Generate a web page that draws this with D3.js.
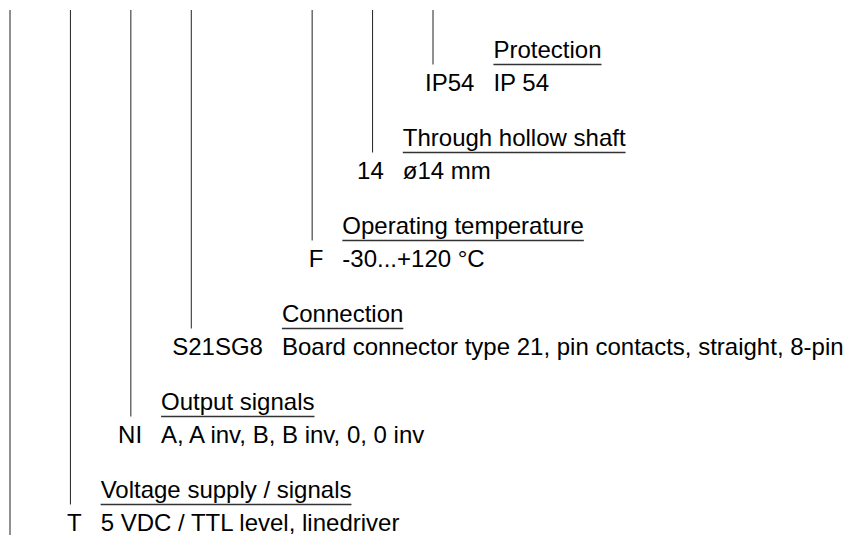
<!DOCTYPE html>
<html>
<head>
<meta charset="utf-8">
<script src="https://cdn.jsdelivr.net/npm/d3@7/dist/d3.min.js"></script>
<style>
  html, body { margin: 0; padding: 0; background: #fff; }
  svg { display: block; }
  text { font-family: Arial, "Liberation Sans", Helvetica, sans-serif; font-size: 24px; fill: #000; }
</style>
</head>
<body>
<svg id="chart" width="846" height="535"></svg>
<script>
// ---- data ----
const titles = ["Protection", "Through hollow shaft", "Operating temperature", "Connection", "Output signals", "Voltage supply / signals"];
const codes = ["IP54", "14", "F", "S21SG8", "NI", "T"];
const descriptions = ["IP 54", "ø14 mm", "-30...+120 °C", "Board connector type 21, pin contacts, straight, 8-pin", "A, A inv, B, B inv, 0, 0 inv", "5 VDC / TTL level, linedriver"];
const lineSlots = [7, 6, 5, 3, 2, 1];     // column of each group's leader line
const descSlots = [8, 6.5, 5.5, 4.5, 2.5, 1.5]; // column where each description starts
const baseSlot = 0;                        // unlabeled leading column

// ---- layout ----
const W = 846, H = 535;
const svg = d3.select("#chart");
const x = d3.scaleLinear().domain([0, 7]).range([10, 433]);
const y = d3.scaleLinear().domain([0, titles.length - 1]).range([58, 498]);
const underlineOff = 6.5, valueOff = 33, lineTop = 10, codeGap = 19;

const groups = titles.map((t, i) => ({ title: t, code: codes[i], desc: descriptions[i], line: lineSlots[i], dslot: descSlots[i], i }));

// base line
svg.append("line")
  .attr("x1", x(baseSlot)).attr("x2", x(baseSlot))
  .attr("y1", lineTop).attr("y2", H)
  .attr("stroke", "#222").attr("stroke-width", 1);

// leader lines
svg.selectAll("line.leader").data(groups).join("line")
  .attr("class", "leader")
  .attr("x1", d => x(d.line)).attr("x2", d => x(d.line))
  .attr("y1", lineTop).attr("y2", d => y(d.i) + underlineOff)
  .attr("stroke", "#222").attr("stroke-width", 1);

const g = svg.selectAll("g.grp").data(groups).join("g").attr("class", "grp");

const tt = g.append("text")
  .attr("x", d => x(d.dslot)).attr("y", d => y(d.i))
  .text(d => d.title);

g.append("text")
  .attr("x", d => x(d.dslot)).attr("y", d => y(d.i) + valueOff)
  .text(d => d.desc);

g.append("text")
  .attr("x", d => x(d.dslot) - codeGap).attr("y", d => y(d.i) + valueOff)
  .attr("text-anchor", "end")
  .text(d => d.code);

tt.each(function(d) {
  const w = this.getComputedTextLength();
  d3.select(this.parentNode).append("line")
    .attr("x1", x(d.dslot)).attr("x2", x(d.dslot) + w)
    .attr("y1", y(d.i) + underlineOff).attr("y2", y(d.i) + underlineOff)
    .attr("stroke", "#333").attr("stroke-width", 1.5);
});
</script>
</body>
</html>
